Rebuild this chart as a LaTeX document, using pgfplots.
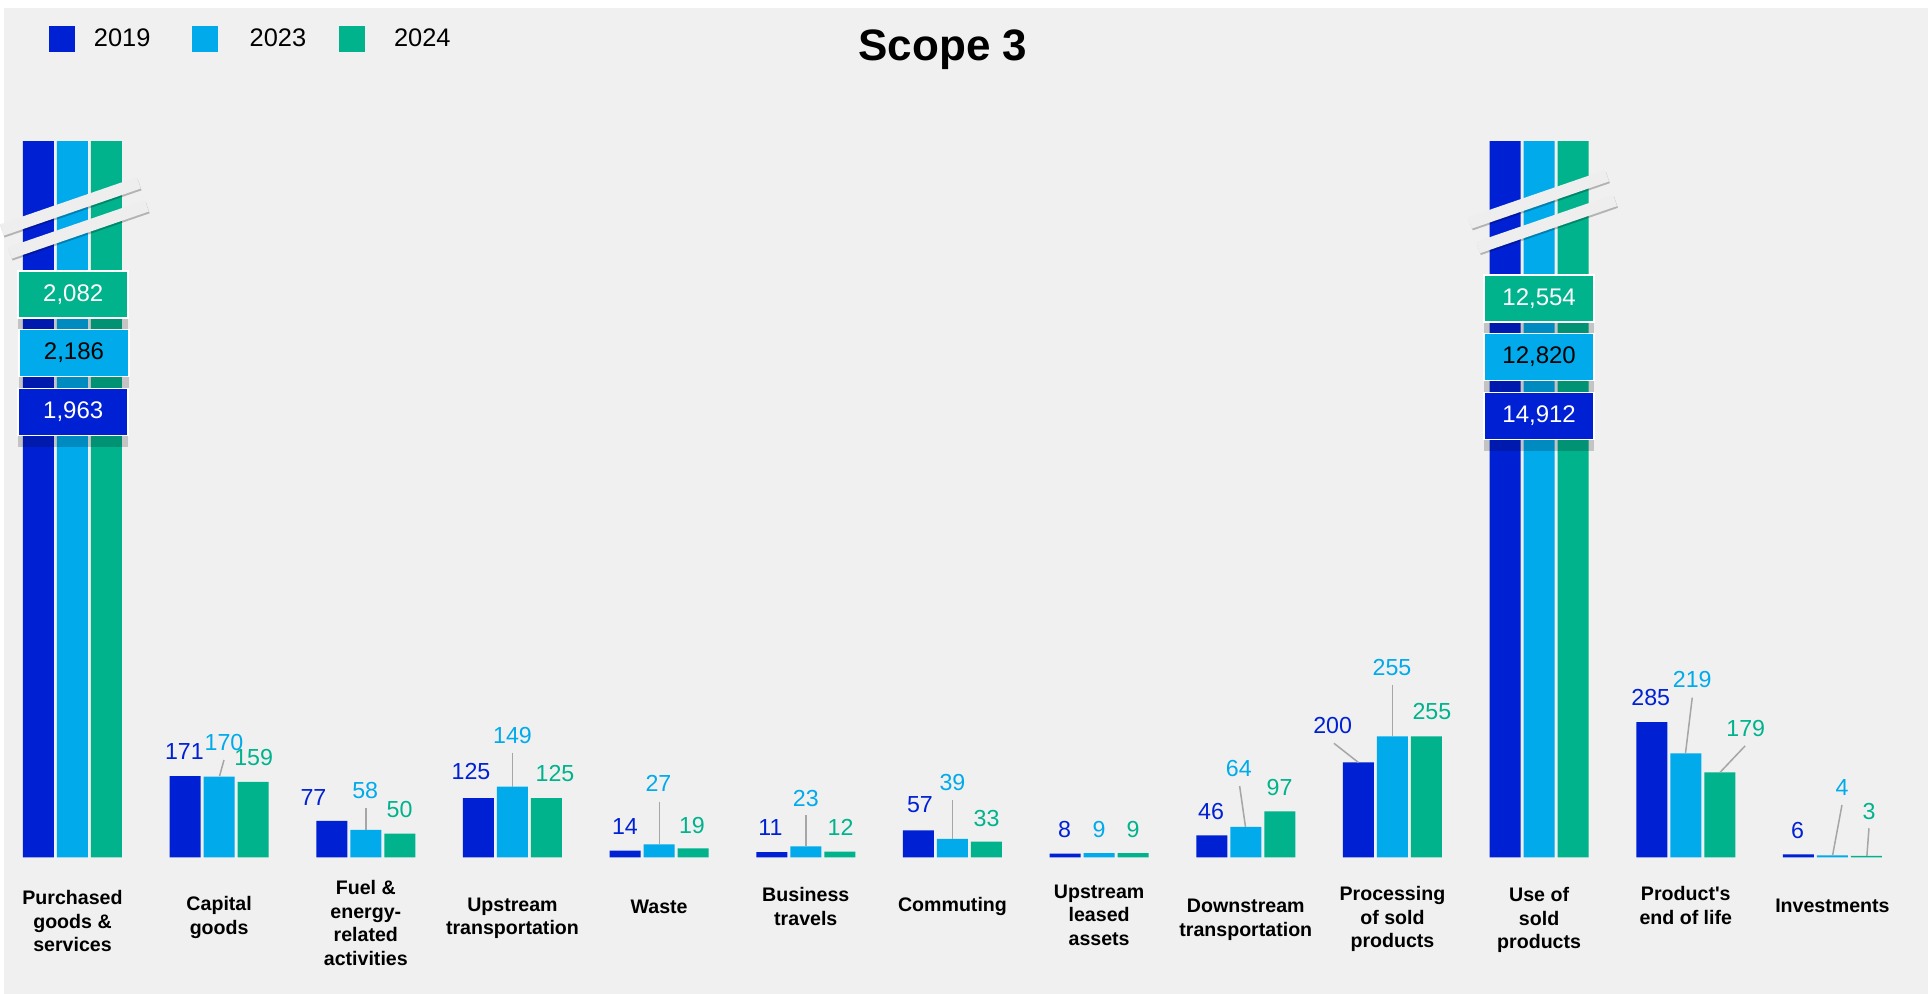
\documentclass[border=0pt]{standalone}
\usepackage{fontspec}
\setmainfont{Liberation Sans}
\usepackage{pgfplots}
\pgfplotsset{compat=1.18}
\usetikzlibrary{shadows}
\definecolor{c19}{HTML}{0020D4}
\definecolor{c23}{HTML}{00AAEB}
\definecolor{c24}{HTML}{00B38D}
\definecolor{bg}{HTML}{F0F0F0}
\definecolor{strip}{HTML}{EEEEEE}
\definecolor{lead}{HTML}{A6A6A6}
\newcommand{\cl}[2]{\raisebox{#1}{\begin{tabular}[t]{@{}c@{}}#2\end{tabular}}}
\tikzset{
  vl/.style={inner sep=0pt, anchor=center, font=\fontsize{11.6}{13}\selectfont},
  box/.style={draw=white, line width=0.8pt, minimum width=55pt, minimum height=23.5pt, inner sep=0pt,
    font=\fontsize{12}{14}\selectfont, drop shadow={shadow xshift=0pt, shadow yshift=-6pt, opacity=0.18, fill=black}},
  brk/.style={fill=strip, minimum width=72.5pt, minimum height=6pt, inner sep=0pt, rotate=19,
    drop shadow={shadow xshift=0.4pt, shadow yshift=-0.9pt, opacity=0.25, fill=black}},
  ld/.style={lead, line width=0.75pt},
}
\begin{document}
\begin{tikzpicture}
\fill[white] (0pt,0pt) rectangle (964pt,497pt);
\fill[bg] (2pt,0pt) rectangle (964pt,493pt);
\begin{axis}[
  at={(-0.42pt,68.35pt)}, anchor=south west,
  scale only axis, width=953.3pt, height=357.9pt,
  xmin=-0.5, xmax=12.5, ymin=0, ymax=1510,
  ybar=1.5pt, bar width=15.5pt,
  clip mode=individual,
  axis line style={draw=none}, major tick length=0pt, ytick=\empty,
  xtick={0,...,12},
  xticklabels={
    {\cl{3.5pt}{Purchased\\goods \&\\services}},
    {\cl{0.5pt}{Capital\\goods}},
    {\cl{8.5pt}{Fuel \&\\energy-\\related\\activities}},
    {\cl{0.25pt}{Upstream\\transportation}},
    {\cl{-1pt}{Waste}},
    {\cl{5.15pt}{Business\\travels}},
    {\cl{0.15pt}{Commuting}},
    {\cl{6.85pt}{Upstream\\leased\\assets}},
    {\cl{-0.35pt}{Downstream\\transportation}},
    {\cl{5.65pt}{Processing\\of sold\\products}},
    {\cl{5.15pt}{Use of\\sold\\products}},
    {\cl{5.65pt}{Product\textquotesingle s\\end of life}},
    {\cl{-0.15pt}{Investments}}},
  xticklabel style={font=\fontsize{9.8}{11.7}\selectfont\bfseries, anchor=base, inner sep=0pt, yshift=-27.35pt},
  title={Scope 3},
  title style={at={(axis description cs:0.495,1.1139)}, anchor=base, yshift=-6.5pt, inner sep=0pt, font=\fontsize{22}{26}\selectfont\bfseries},
  legend image code/.code={\fill[#1] (0pt,-6.5pt) rectangle (13pt,6.5pt);},
  legend columns=3,
  legend style={at={(axis description cs:0,0)}, anchor=west, xshift=24.92pt, yshift=409.15pt,
    draw=none, fill=none, inner sep=0pt, outer sep=0pt,
    nodes={inner sep=0pt, font=\fontsize{12.7}{14}\selectfont},
    /tikz/column 1/.style={column sep=9.5pt},
    /tikz/column 2/.style={column sep=20.75pt},
    /tikz/column 3/.style={column sep=15.85pt},
    /tikz/column 4/.style={column sep=16.4pt},
    /tikz/column 5/.style={column sep=14.5pt}},
]
\addplot[fill=c19, draw=none] coordinates {(0,1963) (1,171) (2,77) (3,125) (4,14) (5,11) (6,57) (7,8) (8,46) (9,200) (10,14912) (11,285) (12,6)};
\addplot[fill=c23, draw=none] coordinates {(0,2186) (1,170) (2,58) (3,149) (4,27) (5,23) (6,39) (7,9) (8,64) (9,255) (10,12820) (11,219) (12,4)};
\addplot[fill=c24, draw=none] coordinates {(0,2082) (1,159) (2,50) (3,125) (4,19) (5,12) (6,33) (7,9) (8,97) (9,255) (10,12554) (11,179) (12,3)};
\legend{2019,2023,2024}
% break marks
\node[brk] at (axis cs:-0.015,1373) {};
\node[brk] at (axis cs:0.04,1324.5) {};
\node[brk] at (axis cs:9.996,1388) {};
\node[brk] at (axis cs:10.051,1336) {};
% value boxes
\node[box, fill=c24, text=white] at (axis cs:0.005,1186.9) {2,082};
\node[box, fill=c23, text=black] at (axis cs:0.01,1063.9) {2,186};
\node[box, fill=c19, text=white] at (axis cs:0.005,939.5) {1,963};
\node[box, fill=c24, text=white] at (axis cs:10.0,1179.3) {12,554};
\node[box, fill=c23, text=black] at (axis cs:10.0,1055.5) {12,820};
\node[box, fill=c19, text=white] at (axis cs:10.0,931) {14,912};
% leader lines
\draw[ld] (axis cs:1.033,205.3) -- (axis cs:1.003,171.5);
\draw[ld] (axis cs:2.001,104.0) -- (axis cs:2.001,58);
\draw[ld] (axis cs:3.0,220.7) -- (axis cs:3.0,149);
\draw[ld] (axis cs:4.001,117.3) -- (axis cs:4.001,27);
\draw[ld] (axis cs:5.0,89.2) -- (axis cs:5.0,23);
\draw[ld] (axis cs:6.0,120.9) -- (axis cs:6.0,39);
\draw[ld] (axis cs:7.958,150.4) -- (axis cs:7.998,64);
\draw[ld] (axis cs:8.601,240.5) -- (axis cs:8.768,200);
\draw[ld] (axis cs:9.0,363.5) -- (axis cs:9.0,255);
\draw[ld] (axis cs:11.044,336.7) -- (axis cs:10.998,219);
\draw[ld] (axis cs:11.404,234.8) -- (axis cs:11.233,179);
\draw[ld] (axis cs:12.065,110.3) -- (axis cs:12.001,4);
\draw[ld] (axis cs:12.249,61.2) -- (axis cs:12.235,3);
% value labels
\node[vl, text=c19] at (axis cs:0.763,222.8) {171};
\node[vl, text=c23] at (axis cs:1.033,241.8) {170};
\node[vl, text=c24] at (axis cs:1.235,210.1) {159};
\node[vl, text=c19] at (axis cs:1.643,126.6) {77};
\node[vl, text=c23] at (axis cs:1.996,140.5) {58};
\node[vl, text=c24] at (axis cs:2.230,99.8) {50};
\node[vl, text=c19] at (axis cs:2.717,180.6) {125};
\node[vl, text=c23] at (axis cs:3.0,255.9) {149};
\node[vl, text=c24] at (axis cs:3.290,177.2) {125};
\node[vl, text=c19] at (axis cs:3.767,64.6) {14};
\node[vl, text=c23] at (axis cs:3.995,156.1) {27};
\node[vl, text=c24] at (axis cs:4.224,66.0) {19};
\node[vl, text=c19] at (axis cs:4.759,63.3) {11};
\node[vl, text=c23] at (axis cs:5.0,124.5) {23};
\node[vl, text=c24] at (axis cs:5.237,63.3) {12};
\node[vl, text=c19] at (axis cs:5.778,110.3) {57};
\node[vl, text=c23] at (axis cs:6.0,157.4) {39};
\node[vl, text=c24] at (axis cs:6.233,82.3) {33};
\node[vl, text=c19] at (axis cs:6.765,59.1) {8};
\node[vl, text=c23] at (axis cs:7.0,59.1) {9};
\node[vl, text=c24] at (axis cs:7.231,59.1) {9};
\node[vl, text=c19] at (axis cs:7.763,96.2) {46};
\node[vl, text=c23] at (axis cs:7.952,186.3) {64};
\node[vl, text=c24] at (axis cs:8.230,147.7) {97};
\node[vl, text=c19] at (axis cs:8.592,277.6) {200};
\node[vl, text=c23] at (axis cs:8.997,400) {255};
\node[vl, text=c24] at (axis cs:9.269,307.2) {255};
\node[vl, text=c19] at (axis cs:10.761,336.7) {285};
\node[vl, text=c23] at (axis cs:11.044,374.1) {219};
\node[vl, text=c24] at (axis cs:11.409,272.2) {179};
\node[vl, text=c19] at (axis cs:11.762,56.1) {6};
\node[vl, text=c23] at (axis cs:12.065,146.8) {4};
\node[vl, text=c24] at (axis cs:12.249,96.2) {3};
\end{axis}
\pgfresetboundingbox
\useasboundingbox (0pt,0pt) rectangle (964pt,497pt);
\end{tikzpicture}
\end{document}
